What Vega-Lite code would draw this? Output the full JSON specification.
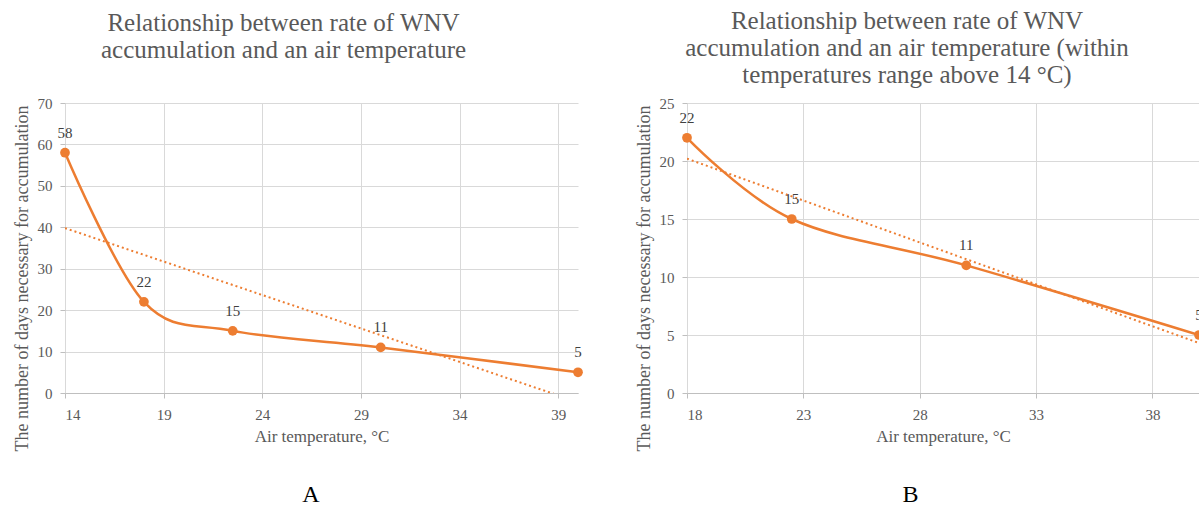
{
  "$schema": "https://vega.github.io/schema/vega-lite/v6.json",
  "padding": {"left": 13, "top": 9, "right": 0, "bottom": 0},
  "background": "white",
  "datasets": {
    "a": [{"t": 14, "d": 58}, {"t": 18, "d": 22}, {"t": 22.5, "d": 15}, {"t": 30, "d": 11}, {"t": 40, "d": 5}],
    "b": [{"t": 18, "d": 22}, {"t": 22.5, "d": 15}, {"t": 30, "d": 11}, {"t": 40, "d": 5}]
  },
  "config": {
    "font": "Liberation Serif",
    "view": {"stroke": null},
    "axis": {
      "labelFont": "Liberation Serif", "labelFontSize": 15, "labelColor": "#595959",
      "titleFont": "Liberation Serif", "titleFontSize": 17, "titleColor": "#595959", "titleFontWeight": "normal",
      "gridColor": "#d9d9d9", "domainColor": "#bfbfbf", "tickColor": "#bfbfbf", "tickSize": 5
    },
    "concat": {"spacing": 52}
  },
  "hconcat": [
    {
      "title": {"text": "A", "orient": "bottom", "anchor": "middle", "fontSize": 24, "color": "#000000", "fontWeight": "normal", "font": "Liberation Serif", "offset": 30, "dx": 13},
      "vconcat": [
        {
          "width": 513, "height": 290,
          "title": {"text": ["Relationship between rate of WNV", "accumulation and an air temperature"], "fontSize": 25, "lineHeight": 27, "color": "#595959", "font": "Liberation Serif", "fontWeight": "normal", "frame": "group", "offset": 33, "dx": -38},
          "data": {"name": "a"},
          "encoding": {
            "x": {"field": "t", "type": "quantitative", "scale": {"domain": [14, 40], "nice": false, "zero": false},
                  "axis": {"values": [14, 19, 24, 29, 34, 39], "title": "Air temperature, °C", "labelFont": "Liberation Serif", "titleFont": "Liberation Serif", "labelPadding": 9, "titlePadding": 6}},
            "y": {"field": "d", "type": "quantitative", "scale": {"domain": [0, 70], "nice": false},
                  "axis": {"values": [0, 10, 20, 30, 40, 50, 60, 70], "title": "The number of days necessary  for accumulation", "labelFont": "Liberation Serif", "titleFont": "Liberation Serif", "titleFontSize": 18, "titleY": 175, "domain": false, "labelPadding": 8, "titlePadding": 6}}
          },
          "layer": [
            {"transform": [{"regression": "d", "on": "t"}], "mark": {"type": "line", "color": "#ED7D31", "strokeWidth": 2, "strokeDash": [2, 3], "clip": true}},
            {"mark": {"type": "line", "interpolate": "cardinal", "color": "#ED7D31", "strokeWidth": 2.5}},
            {"mark": {"type": "point", "filled": true, "size": 95, "color": "#ED7D31", "opacity": 1}},
            {"mark": {"type": "text", "dy": -20, "fontSize": 15, "color": "#404040", "font": "Liberation Serif"}, "encoding": {"text": {"field": "d"}}}
          ]
        }
      ]
    },
    {
      "title": {"text": "B", "orient": "bottom", "anchor": "middle", "fontSize": 24, "color": "#000000", "fontWeight": "normal", "font": "Liberation Serif", "offset": 30, "dx": -9},
      "vconcat": [
        {
          "width": 512, "height": 290,
          "title": {"text": ["Relationship between rate of WNV", "accumulation and an air temperature (within", "temperatures range above 14 °C)"], "fontSize": 25, "lineHeight": 27, "color": "#595959", "font": "Liberation Serif", "fontWeight": "normal", "frame": "group", "offset": 8, "dx": -36},
          "data": {"name": "b"},
          "encoding": {
            "x": {"field": "t", "type": "quantitative", "scale": {"domain": [18, 40], "nice": false, "zero": false},
                  "axis": {"values": [18, 23, 28, 33, 38], "title": "Air temperature, °C", "labelFont": "Liberation Serif", "titleFont": "Liberation Serif", "labelPadding": 9, "titlePadding": 6}},
            "y": {"field": "d", "type": "quantitative", "scale": {"domain": [0, 25], "nice": false},
                  "axis": {"values": [0, 5, 10, 15, 20, 25], "title": "The number of days necessary  for accumulation", "labelFont": "Liberation Serif", "titleFont": "Liberation Serif", "titleFontSize": 18, "titleY": 175, "domain": false, "labelPadding": 8, "titlePadding": 6}}
          },
          "layer": [
            {"transform": [{"regression": "d", "on": "t"}], "mark": {"type": "line", "color": "#ED7D31", "strokeWidth": 2, "strokeDash": [2, 3], "clip": true}},
            {"mark": {"type": "line", "interpolate": "cardinal", "color": "#ED7D31", "strokeWidth": 2.5}},
            {"mark": {"type": "point", "filled": true, "size": 95, "color": "#ED7D31", "opacity": 1}},
            {"mark": {"type": "text", "dy": -20, "fontSize": 15, "color": "#404040", "font": "Liberation Serif"}, "encoding": {"text": {"field": "d"}}}
          ]
        }
      ]
    }
  ]
}
